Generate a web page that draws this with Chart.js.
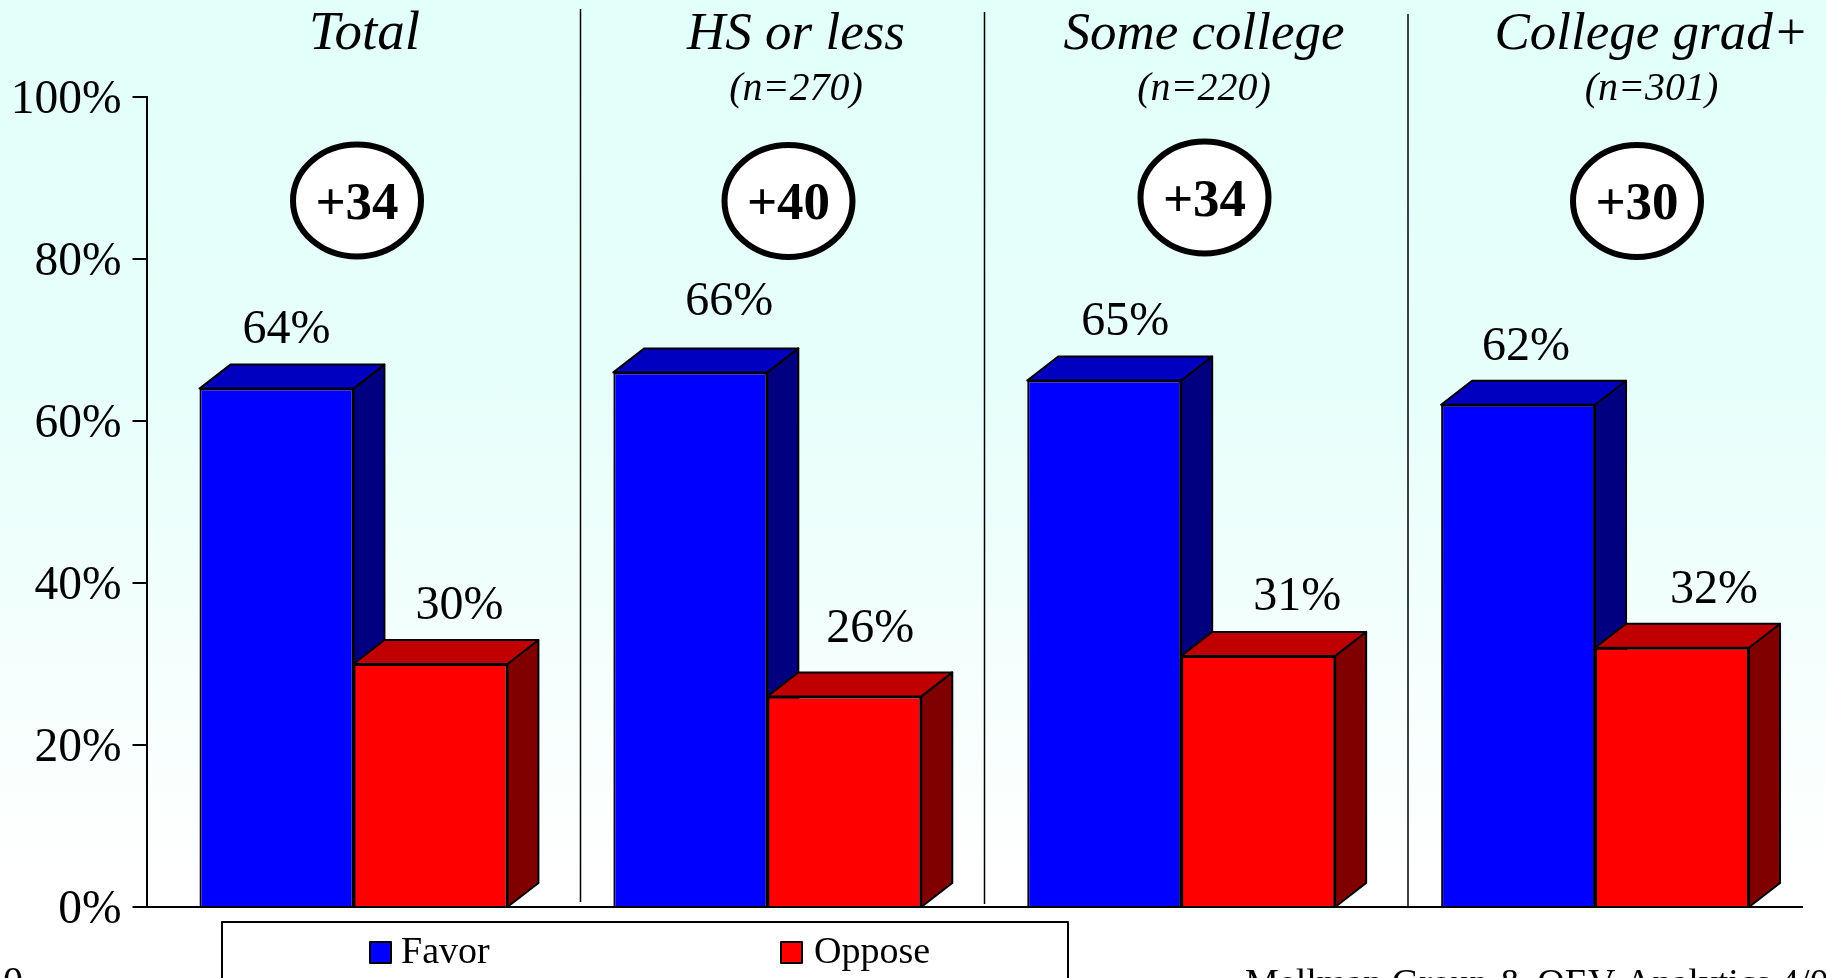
<!DOCTYPE html>
<html>
<head>
<meta charset="utf-8">
<title>Favor / Oppose by education</title>
<style>
  html, body { margin: 0; padding: 0; overflow: hidden; }
  body { width: 1826px; height: 978px; background: linear-gradient(#e2fff9 0%, #e7fffa 40%, #ffffff 90%); }
  canvas { display: block; }
</style>
<script src="https://cdn.jsdelivr.net/npm/chart.js@4/dist/chart.umd.js"></script>
</head>
<body>
<canvas id="chart" width="1826" height="978"></canvas>
<script>
const categories = ['Total', 'HS or less', 'Some college', 'College grad+'];
const sampleSizes = ['', '(n=270)', '(n=220)', '(n=301)'];
const favor = [64, 66, 65, 62];
const oppose = [30, 26, 31, 32];
const margins = ['+34', '+40', '+34', '+30'];
const yTicks = [0, 20, 40, 60, 80, 100];
const sourceNote = 'Mellman Group & OEV Analytics 4/04';
const pageMark = '0';

const SERIF = '"Liberation Serif", "Times New Roman", serif';
const DEPTH_X = 31;
const DEPTH_Y = 24;

// hand placed in the original slide, so these stay as pixel offsets from each bar top
const favorLabelOffsets = [[10, -58], [39, -70], [21, -58], [8, -57]];
const opposeLabelOffsets = [[29, -58], [26, -67], [39, -59], [42, -57]];
const headerCenters = [364.5, 796, 1204, 1651.5];
const headerSizes = [55, 53, 53, 53];
const badgeCenters = [[357, 200.5], [788.5, 201], [1204.5, 197.5], [1637, 201]];
const dividers = [[580.5, 9, 902], [984.5, 12, 904], [1408, 14, 907]];

const faceColors = [
  { top: '#0000c0', side: '#000080' },
  { top: '#c00000', side: '#800000' },
];

function polygon(ctx, points, fill) {
  ctx.beginPath();
  points.forEach(([x, y], i) => (i ? ctx.lineTo(x, y) : ctx.moveTo(x, y)));
  ctx.closePath();
  ctx.fillStyle = fill;
  ctx.fill();
  ctx.lineWidth = 2;
  ctx.strokeStyle = '#000';
  ctx.lineJoin = 'round';
  ctx.stroke();
}

function text(ctx, str, x, y, font, align = 'center', baseline = 'alphabetic') {
  ctx.font = font;
  ctx.textAlign = align;
  ctx.textBaseline = baseline;
  ctx.fillStyle = '#000';
  ctx.fillText(str, x, y);
}

// top and side faces sit behind the flat bars chart.js draws
const barDepth = {
  id: 'barDepth',
  beforeDatasetsDraw(chart) {
    const ctx = chart.ctx;
    const base = chart.scales.y.getPixelForValue(0);
    chart.data.datasets.forEach((dataset, d) => {
      chart.getDatasetMeta(d).data.forEach((bar) => {
        const left = bar.x - bar.width / 2;
        const right = bar.x + bar.width / 2;
        polygon(ctx, [
          [right, bar.y], [right + DEPTH_X, bar.y - DEPTH_Y],
          [right + DEPTH_X, base - DEPTH_Y], [right, base],
        ], faceColors[d].side);
        polygon(ctx, [
          [left, bar.y], [left + DEPTH_X, bar.y - DEPTH_Y],
          [right + DEPTH_X, bar.y - DEPTH_Y], [right, bar.y],
        ], faceColors[d].top);
      });
    });
  },
};

const annotations = {
  id: 'annotations',
  afterDatasetsDraw(chart) {
    const ctx = chart.ctx;
    ctx.save();

    dividers.forEach(([x, top, bottom]) => {
      ctx.beginPath();
      ctx.moveTo(x, top);
      ctx.lineTo(x, bottom);
      ctx.lineWidth = 1.5;
      ctx.strokeStyle = '#000';
      ctx.stroke();
    });

    categories.forEach((name, i) => {
      text(ctx, name, headerCenters[i], 49, `italic ${headerSizes[i]}px ${SERIF}`);
      if (sampleSizes[i]) {
        text(ctx, sampleSizes[i], headerCenters[i], 100, `italic 40px ${SERIF}`);
      }

      const [cx, cy] = badgeCenters[i];
      ctx.beginPath();
      ctx.ellipse(cx, cy, 64, 56, 0, 0, Math.PI * 2);
      ctx.fillStyle = '#fff';
      ctx.fill();
      ctx.lineWidth = 6;
      ctx.strokeStyle = '#000';
      ctx.stroke();
      text(ctx, margins[i], cx, cy + 18, `bold 53px ${SERIF}`);
    });

    [favorLabelOffsets, opposeLabelOffsets].forEach((offsets, d) => {
      chart.getDatasetMeta(d).data.forEach((bar, i) => {
        const value = chart.data.datasets[d].data[i];
        const [dx, dy] = offsets[i];
        text(ctx, `${value}%`, bar.x + dx, bar.y + dy, `48px ${SERIF}`, 'center', 'middle');
      });
    });

    // legend box runs off the bottom of the slide
    ctx.fillStyle = '#fff';
    ctx.fillRect(222, 922, 846, 80);
    ctx.lineWidth = 2;
    ctx.strokeStyle = '#000';
    ctx.strokeRect(222, 922, 846, 80);
    [[370, 401], [781, 814]].forEach(([swatchX, labelX], d) => {
      ctx.fillStyle = chart.data.datasets[d].backgroundColor;
      ctx.fillRect(swatchX, 942, 21, 21);
      ctx.strokeRect(swatchX, 942, 21, 21);
      text(ctx, chart.data.datasets[d].label, labelX, 963, `38px ${SERIF}`, 'left');
    });

    text(ctx, sourceNote, 1245, 995, `38px ${SERIF}`, 'left');
    text(ctx, pageMark, 3, 994, `40px ${SERIF}`, 'left');
    ctx.restore();
  },
};

new Chart(document.getElementById('chart'), {
  type: 'bar',
  data: {
    labels: categories,
    datasets: [
      { label: 'Favor', data: favor, backgroundColor: '#0000ff', borderColor: '#000', borderWidth: 2 },
      { label: 'Oppose', data: oppose, backgroundColor: '#ff0000', borderColor: '#000', borderWidth: 2 },
    ],
  },
  options: {
    responsive: false,
    animation: false,
    layout: { padding: { top: 97, bottom: 71, left: 0, right: 24 } },
    plugins: { legend: { display: false }, tooltip: { enabled: false } },
    datasets: { bar: { categoryPercentage: 0.744, barPercentage: 1 } },
    scales: {
      x: {
        grid: { display: false },
        border: { color: '#000', width: 2 },
        ticks: { display: false },
        afterFit(scale) { scale.height = 0; },
      },
      y: {
        min: 0,
        max: 100,
        afterBuildTicks(scale) { scale.ticks = yTicks.map((value) => ({ value })); },
        afterFit(scale) { scale.width = 146.5; },
        grid: { drawOnChartArea: false, color: '#000', tickLength: 14, lineWidth: 2 },
        border: { color: '#000', width: 2 },
        ticks: {
          color: '#000',
          padding: 11,
          labelOffset: 4,
          font: { family: SERIF, size: 47.5 },
          callback: (value) => `${value}%`,
        },
      },
    },
  },
  plugins: [barDepth, annotations],
});
</script>
</body>
</html>
